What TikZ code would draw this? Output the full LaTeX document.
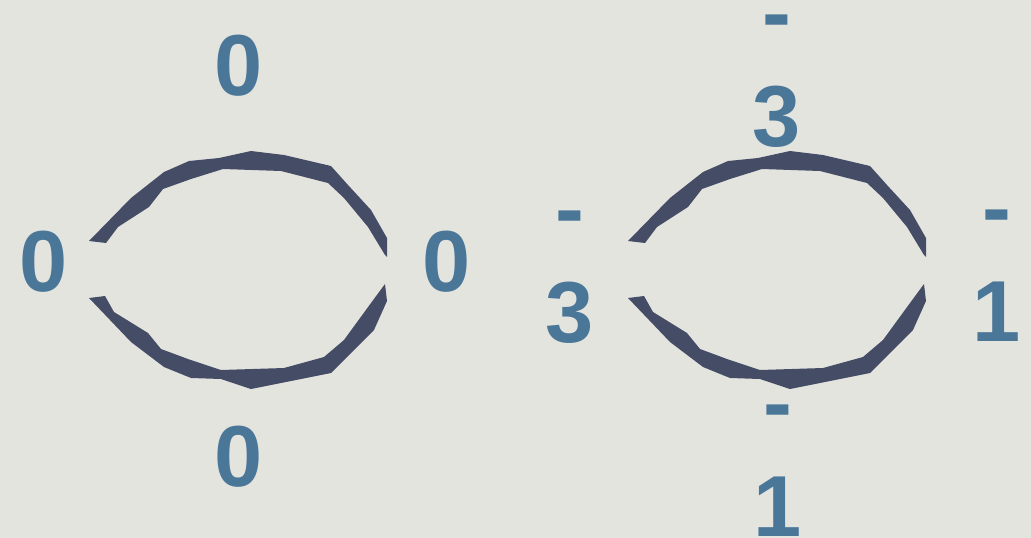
\documentclass[tikz,border=0pt]{standalone}
\usepackage{fontspec}
\setmainfont{Liberation Sans}
\definecolor{bgcol}{HTML}{E4E4DF}
\definecolor{lblblue}{HTML}{4A7698}
\definecolor{arcdark}{HTML}{444C66}
\tikzset{
  lbl/.style={text=lblblue, font=\fontsize{86.6}{104}\selectfont\bfseries, inner sep=0pt, anchor=base, align=center},
  arcfill/.style={fill=arcdark},
  eye/.pic={
    \fill[arcfill] (89,241) -- (131,198) -- (164,172) -- (189,161) -- (219,158) -- (251,151) -- (284,155) -- (331,166) -- (348,185) -- (371,210) -- (387,238) -- (387,257)
      -- (385,255) -- (368,227) -- (344,198) -- (328,183) -- (281,171) -- (223,169) -- (191,179) -- (163,189) -- (149,207) -- (118,227) -- (106,243) -- cycle;
    \fill[arcfill] (89,298) -- (131,342) -- (164,367) -- (191,378) -- (221,379) -- (251,389) -- (281,383) -- (331,373) -- (374,330) -- (387,301) -- (385,284)
      -- (371,303) -- (344,340) -- (324,357) -- (284,368) -- (221,370) -- (188,359) -- (161,349) -- (148,333) -- (114,312) -- (105,296) -- cycle;
  }
}
\begin{document}
\begin{tikzpicture}[x=1pt,y=-1pt]
\fill[bgcol] (0,0) rectangle (1031,538);
\useasboundingbox (0,0) rectangle (1031,538);
\pic at (0,0) {eye};
\pic at (539,0) {eye};
% left shape labels
\node[lbl] (ltop) at (238.5,95) {0};
\node[lbl] (lleft) at (44,291) {0};
\node[lbl] (lright) at (446.5,291) {0};
\node[lbl] (lbot) at (238.5,486) {0};
% right shape labels
\node[lbl] (rtop) at (777,146) {-\\3};
\node[lbl] (rleft) at (570,342) {-\\3};
\node[lbl] (rright) at (997,341) {-\\1};
\node[lbl] (rbot) at (778,536) {-\\1};
\end{tikzpicture}
\end{document}
